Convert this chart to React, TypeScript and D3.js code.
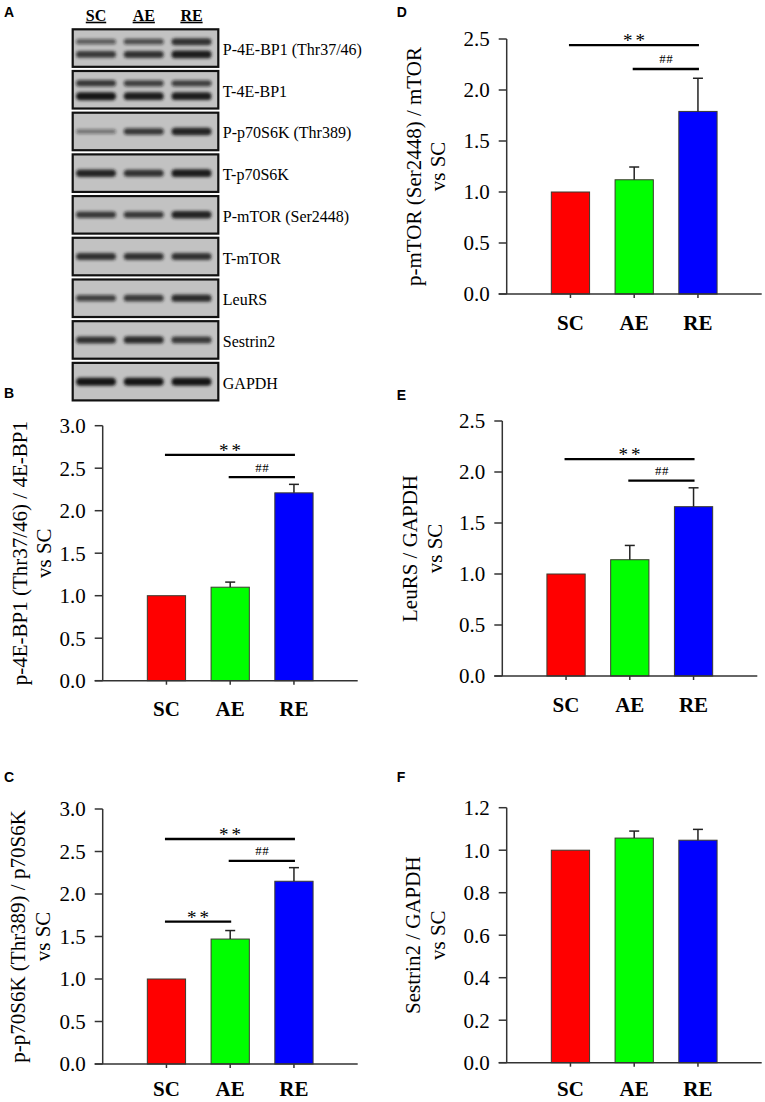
import React from 'react';
import * as d3 from 'd3';

const categories = ['SC', 'AE', 'RE'];

// B: p-4E-BP1 / 4E-BP1
const bMeans = [1.0, 1.1, 2.21];
const bErrors = [0, 0.06, 0.1];
// C: p-p70S6K / p70S6K
const cMeans = [1.0, 1.47, 2.15];
const cErrors = [0, 0.1, 0.16];
// D: p-mTOR / mTOR
const dMeans = [1.0, 1.12, 1.79];
const dErrors = [0, 0.125, 0.325];
// E: LeuRS / GAPDH
const eMeans = [1.0, 1.14, 1.66];
const eErrors = [0, 0.14, 0.185];
// F: Sestrin2 / GAPDH
const fMeans = [1.0, 1.057, 1.047];
const fErrors = [0, 0.033, 0.051];

const ticks30 = [0, 0.5, 1.0, 1.5, 2.0, 2.5, 3.0];
const ticks25 = [0, 0.5, 1.0, 1.5, 2.0, 2.5];
const ticks12 = [0, 0.2, 0.4, 0.6, 0.8, 1.0, 1.2];

type Sig = [string, string, number, string];
const bSig: Sig[] = [['SC', 'RE', 2.657, '**'], ['AE', 'RE', 2.394, '##']];
const cSig: Sig[] = [['SC', 'RE', 2.647, '**'], ['AE', 'RE', 2.39, '##'], ['SC', 'AE', 1.674, '**']];
const dSig: Sig[] = [['SC', 'RE', 2.44, '**'], ['AE', 'RE', 2.206, '##']];
const eSig: Sig[] = [['SC', 'RE', 2.127, '**'], ['AE', 'RE', 1.915, '##']];
const fSig: Sig[] = [];

// western blot: label per row, band intensity per band per lane
const blotLabels = [
  'P-4E-BP1 (Thr37/46)',
  'T-4E-BP1',
  'P-p70S6K (Thr389)',
  'T-p70S6K',
  'P-mTOR (Ser2448)',
  'T-mTOR',
  'LeuRS',
  'Sestrin2',
  'GAPDH',
];
const blotBands: number[][][] = [
  [[0.45, 0.55, 0.8], [0.75, 0.8, 0.95]],
  [[0.7, 0.65, 0.65], [1, 0.95, 0.95]],
  [[0.3, 0.7, 0.9]],
  [[0.9, 0.8, 0.95]],
  [[0.7, 0.7, 0.9]],
  [[0.8, 0.8, 0.8]],
  [[0.65, 0.75, 0.85]],
  [[0.8, 0.85, 0.75]],
  [[1, 1, 1]],
];

const serif = '"Liberation Serif", "Times New Roman", serif';
const sans = '"Liberation Sans", Arial, sans-serif';
const barColors = ['#ff0000', '#00ff00', '#0000ff'];
const axisColor = '#333';

interface PanelProps {
  letter: string;
  letterX: number;
  letterY: number;
  left: number;
  bottom: number;
  yMax: number;
  ticks: number[];
  means: number[];
  errors: number[];
  sig: Sig[];
  yLabel: string;
  labelX: [number, number];
  catDy?: number;
}

const SIZE = 255;

const BarPanel: React.FC<PanelProps> = p => {
  const x = d3.scalePoint<string>().domain(categories).range([p.left, p.left + SIZE]).padding(1);
  const y = d3.scaleLinear().domain([0, p.yMax]).range([p.bottom, p.bottom - SIZE]);
  const barW = SIZE * 0.15;
  const fmt = d3.format('.1f');
  const midY = (y(0) + y(p.yMax)) / 2;
  const catDy = p.catDy ?? 35.5;

  return (
    <g>
      <text x={p.letterX} y={p.letterY} fontFamily={sans} fontWeight="bold" fontSize={14}>
        {p.letter}
      </text>

      {/* bars */}
      {categories.map((c, i) => (
        <rect
          key={c}
          x={(x(c) as number) - barW / 2}
          y={y(p.means[i])}
          width={barW}
          height={y(0) - y(p.means[i])}
          fill={barColors[i]}
          stroke="#3b3b2e"
          strokeWidth={1}
        />
      ))}

      {/* error bars */}
      {categories.map((c, i) =>
        p.errors[i] > 0 ? (
          <g key={c} stroke="#222" strokeWidth={1.5}>
            <line x1={x(c)} x2={x(c)} y1={y(p.means[i])} y2={y(p.means[i] + p.errors[i])} />
            <line
              x1={(x(c) as number) - 5}
              x2={(x(c) as number) + 5}
              y1={y(p.means[i] + p.errors[i])}
              y2={y(p.means[i] + p.errors[i])}
            />
          </g>
        ) : null
      )}

      {/* y axis */}
      <line x1={p.left} x2={p.left} y1={y(0)} y2={y(p.yMax)} stroke={axisColor} strokeWidth={1.5} />
      {p.ticks.map(t => (
        <g key={t}>
          <line x1={p.left - 8} x2={p.left} y1={y(t)} y2={y(t)} stroke={axisColor} strokeWidth={1.5} />
          <text
            x={p.left - 17}
            y={y(t)}
            dy="0.35em"
            textAnchor="end"
            fontFamily={serif}
            fontSize={21}
          >
            {fmt(t)}
          </text>
        </g>
      ))}

      {/* x axis */}
      <line x1={p.left - 8} x2={p.left + SIZE} y1={y(0)} y2={y(0)} stroke={axisColor} strokeWidth={1.5} />
      {categories.map(c => (
        <g key={c}>
          <line x1={x(c)} x2={x(c)} y1={y(0)} y2={y(0) + 4} stroke={axisColor} strokeWidth={1.5} />
          <text
            x={x(c)}
            y={y(0) + catDy}
            textAnchor="middle"
            fontFamily={serif}
            fontWeight="bold"
            fontSize={21}
          >
            {c}
          </text>
        </g>
      ))}

      {/* significance brackets */}
      {p.sig.map(([a, b, v, mark], i) => {
        const x1 = (x(a) as number) - 1.5;
        const x2 = (x(b) as number) + 1;
        const ly = y(v);
        const stars = mark === '**';
        return (
          <g key={i}>
            <line x1={x1} x2={x2} y1={ly} y2={ly} stroke="#000" strokeWidth={2.3} />
            <text
              x={(x1 + x2) / 2 + (stars ? 1.5 : 0.5)}
              y={stars ? ly + 2 : ly - 5.5}
              textAnchor="middle"
              fontFamily={serif}
              fontSize={stars ? 19 : 13}
              letterSpacing={stars ? 3 : 0.5}
            >
              {mark}
            </text>
          </g>
        );
      })}

      {/* y label */}
      <text
        transform={`translate(${p.labelX[0]},${midY}) rotate(-90)`}
        textAnchor="middle"
        fontFamily={serif}
        fontSize={21}
      >
        {p.yLabel}
      </text>
      <text
        transform={`translate(${p.labelX[1]},${midY}) rotate(-90)`}
        textAnchor="middle"
        fontFamily={serif}
        fontSize={21}
      >
        vs SC
      </text>
    </g>
  );
};

const Blot: React.FC = () => {
  const boxLeft = 72.7;
  const boxW = 145.6;
  const rows = d3.scaleBand<string>().domain(blotLabels).range([29.3, 400.4]).paddingInner(0.1);
  const lanes = d3.scalePoint<string>().domain(categories).range([96, 191.5]);
  const bandW = 40;

  return (
    <g>
      <defs>
        <filter id="bandBlur" x="-20%" y="-100%" width="140%" height="300%">
          <feGaussianBlur stdDeviation="1.6" />
        </filter>
      </defs>
      <text x={4} y={17} fontFamily={sans} fontWeight="bold" fontSize={14}>
        A
      </text>
      {categories.map(c => (
        <text
          key={c}
          x={lanes(c)}
          y={20.7}
          textAnchor="middle"
          fontFamily={serif}
          fontWeight="bold"
          fontSize={16}
          textDecoration="underline"
        >
          {c}
        </text>
      ))}
      {blotLabels.map((label, r) => {
        const top = rows(label) as number;
        const h = rows.bandwidth();
        const cy = top + h / 2;
        const bands = blotBands[r];
        const offsets = bands.length === 2 ? [-6.4, 6.4] : [0];
        return (
          <g key={label}>
            <rect x={boxLeft} y={top} width={boxW} height={h} fill="#c2c2c2" stroke="#111" strokeWidth={2.2} />
            <g filter="url(#bandBlur)">
              {bands.map((lane, b) =>
                lane.map((v, i) => {
                  const bh = 3 + 5 * v;
                  return (
                    <rect
                      key={`${b}-${i}`}
                      x={(lanes(categories[i]) as number) - bandW / 2}
                      y={cy + offsets[b] - bh / 2}
                      width={bandW}
                      height={bh}
                      rx={bh / 2}
                      fill="#151515"
                      fillOpacity={0.25 + 0.75 * v}
                    />
                  );
                })
              )}
            </g>
            <text x={boxLeft + boxW + 4.5} y={cy + 7} fontFamily={serif} fontSize={16}>
              {label}
            </text>
          </g>
        );
      })}
    </g>
  );
};

const App: React.FC = () => {
  return (
    <svg
      width={765}
      height={1102}
      viewBox="0 0 765 1102"
      style={{ position: 'absolute', left: 0, top: 0, background: '#fff' }}
    >
      <Blot />
      <BarPanel
        letter="B"
        letterX={4}
        letterY={398}
        left={102.7}
        bottom={680.7}
        yMax={3}
        ticks={ticks30}
        means={bMeans}
        errors={bErrors}
        sig={bSig}
        yLabel="p-4E-BP1 (Thr37/46) / 4E-BP1"
        labelX={[27, 51]}
      />
      <BarPanel
        letter="C"
        letterX={4}
        letterY={782}
        left={102.7}
        bottom={1064}
        yMax={3}
        ticks={ticks30}
        means={cMeans}
        errors={cErrors}
        sig={cSig}
        yLabel="p-p70S6K (Thr389) / p70S6K"
        labelX={[25, 50]}
        catDy={32}
      />
      <BarPanel
        letter="D"
        letterX={396.7}
        letterY={17}
        left={506.7}
        bottom={294}
        yMax={2.5}
        ticks={ticks25}
        means={dMeans}
        errors={dErrors}
        sig={dSig}
        yLabel="p-mTOR (Ser2448) / mTOR"
        labelX={[421, 445]}
      />
      <BarPanel
        letter="E"
        letterX={396.7}
        letterY={400}
        left={502.3}
        bottom={676}
        yMax={2.5}
        ticks={ticks25}
        means={eMeans}
        errors={eErrors}
        sig={eSig}
        yLabel="LeuRS / GAPDH"
        labelX={[417, 442]}
      />
      <BarPanel
        letter="F"
        letterX={396.7}
        letterY={782}
        left={506.7}
        bottom={1062.7}
        yMax={1.2}
        ticks={ticks12}
        means={fMeans}
        errors={fErrors}
        sig={fSig}
        yLabel="Sestrin2 / GAPDH"
        labelX={[420, 445]}
        catDy={33.5}
      />
    </svg>
  );
};

export default App;
